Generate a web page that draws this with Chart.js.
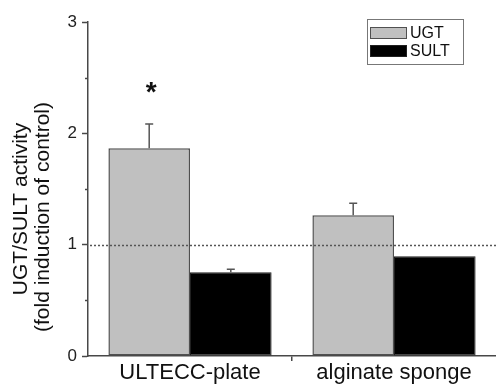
<!DOCTYPE html>
<html>
<head>
<meta charset="utf-8">
<script src="https://cdn.jsdelivr.net/npm/chart.js@4/dist/chart.umd.min.js"></script>
<style>
html, body { margin: 0; padding: 0; background: #fff; }
#wrap { width: 496px; height: 387px; }
</style>
</head>
<body>
<div id="wrap"><canvas id="chart"></canvas></div>
<script>
const categories = ["ULTECC-plate", "alginate sponge"];
const ugt_values = [1.867, 1.264];
const ugt_errors = [0.217, 0.108];
const sult_values = [0.752, 0.896];
const sult_errors = [0.027, 0];
const significance = ["*", ""];
const control_level = 1;
const y_title = ["UGT/SULT activity", "(fold induction of control)"];

const font_family = "'Liberation Sans', Arial, sans-serif";
const axis_color = "#484848";

// dotted control line, error bars, star, minor ticks, legend box, y title
const decorations = {
	id: "decorations",
	afterDatasetsDraw (chart) {
		let ctx = chart.ctx;
		let y = chart.scales.y;
		let area = chart.chartArea;

		ctx.save();
		ctx.strokeStyle = "#555";
		ctx.lineWidth = 1.3;
		ctx.setLineDash([2, 2]);
		let yc = Math.round(y.getPixelForValue(control_level)) + 0.5;
		ctx.beginPath();
		ctx.moveTo(area.left + 2, yc);
		ctx.lineTo(area.right, yc);
		ctx.stroke();
		ctx.restore();

		chart.data.datasets.forEach((ds, i) => {
			let meta = chart.getDatasetMeta(i);
			meta.data.forEach((bar, j) => {
				let err = ds.errors[j];
				if (!err) return;
				let top = y.getPixelForValue(ds.data[j] + err);
				ctx.save();
				ctx.strokeStyle = "#555";
				ctx.lineWidth = 1.5;
				ctx.beginPath();
				ctx.moveTo(bar.x, bar.y);
				ctx.lineTo(bar.x, top);
				ctx.moveTo(bar.x - 4, top);
				ctx.lineTo(bar.x + 4, top);
				ctx.stroke();
				ctx.restore();
			});
		});

		// significance marks over UGT bars
		let ugt_meta = chart.getDatasetMeta(0);
		significance.forEach((mark, j) => {
			if (!mark) return;
			let bar = ugt_meta.data[j];
			let top = y.getPixelForValue(ugt_values[j] + ugt_errors[j]);
			ctx.save();
			ctx.fillStyle = "#111";
			ctx.font = "bold 28px " + font_family;
			ctx.textAlign = "center";
			ctx.textBaseline = "middle";
			ctx.fillText(mark, bar.x + 2, top - 31);
			ctx.restore();
		});
	},
	afterDraw (chart) {
		let ctx = chart.ctx;
		let y = chart.scales.y;
		let area = chart.chartArea;

		// minor ticks
		ctx.save();
		ctx.strokeStyle = axis_color;
		ctx.lineWidth = 1.5;
		[0.5, 1.5, 2.5].forEach(v => {
			let py = Math.round(y.getPixelForValue(v)) + 0.5;
			ctx.beginPath();
			ctx.moveTo(area.left - 3, py);
			ctx.lineTo(area.left, py);
			ctx.stroke();
		});
		ctx.restore();

		// legend
		let bx = area.right - 129, by = area.top - 3;
		ctx.save();
		ctx.strokeStyle = "#777";
		ctx.lineWidth = 1;
		ctx.strokeRect(bx + 0.5, by + 0.5, 96, 45);
		ctx.font = "16px " + font_family;
		ctx.textBaseline = "middle";
		chart.data.datasets.forEach((ds, i) => {
			let sy = by + 8 + i * 18;
			ctx.fillStyle = ds.backgroundColor;
			ctx.fillRect(bx + 3, sy, 37, 12);
			ctx.strokeStyle = ds.borderColor;
			ctx.strokeRect(bx + 3.5, sy + 0.5, 36, 11);
			ctx.fillStyle = "#111";
			ctx.fillText(ds.label, bx + 43, sy + 6.5);
		});
		ctx.restore();

		// y axis title, two lines
		let cy = (area.top + area.bottom) / 2;
		ctx.save();
		ctx.fillStyle = "#111";
		ctx.font = "21px " + font_family;
		ctx.textAlign = "center";
		ctx.textBaseline = "middle";
		ctx.translate(21, cy + 20);
		ctx.rotate(-Math.PI / 2);
		ctx.fillText(y_title[0], 0, 0);
		ctx.restore();
		ctx.save();
		ctx.fillStyle = "#111";
		ctx.font = "21px " + font_family;
		ctx.textAlign = "center";
		ctx.textBaseline = "middle";
		ctx.translate(43, cy + 28);
		ctx.rotate(-Math.PI / 2);
		ctx.fillText(y_title[1], 0, 0);
		ctx.restore();
	}
};

let chart = new Chart(document.getElementById("chart"), {
	type: "bar",
	data: {
		labels: categories,
		datasets: [
			{
				label: "UGT",
				data: ugt_values,
				errors: ugt_errors,
				backgroundColor: "#c0c0c0",
				borderColor: "#505050",
				borderWidth: 1.5,
				borderSkipped: false
			},
			{
				label: "SULT",
				data: sult_values,
				errors: sult_errors,
				backgroundColor: "#000000",
				borderColor: "#202020",
				borderWidth: 1,
				borderSkipped: false
			}
		]
	},
	options: {
		animation: false,
		responsive: true,
		maintainAspectRatio: false,
		layout: { padding: { top: 22, right: 0, bottom: 0, left: 0 } },
		datasets: {
			bar: { categoryPercentage: 0.8, barPercentage: 1.0 }
		},
		plugins: {
			legend: { display: false },
			tooltip: { enabled: false }
		},
		scales: {
			x: {
				afterFit: scale => { scale.height = 31; },
				border: { color: axis_color, width: 1.5 },
				grid: {
					drawOnChartArea: false,
					tickLength: 5,
					color: c => c.index === 1 ? axis_color : "rgba(0,0,0,0)",
					lineWidth: 1.5
				},
				ticks: {
					color: "#111",
					padding: -1,
					font: { family: font_family, size: 22 }
				}
			},
			y: {
				min: 0,
				max: 3,
				afterFit: scale => { scale.width = 88; },
				border: { color: axis_color, width: 1.5 },
				grid: {
					drawOnChartArea: false,
					tickLength: 6,
					tickColor: c => (c.tick && c.tick.value % 1 === 0) ? axis_color : "rgba(0,0,0,0)",
					tickWidth: 1.5
				},
				ticks: {
					stepSize: 0.5,
					color: "#222",
					padding: 5,
					font: { family: font_family, size: 17 },
					callback: v => (v % 1 === 0 ? String(v) : "")
				}
			}
		}
	},
	plugins: [decorations]
});
</script>
</body>
</html>
